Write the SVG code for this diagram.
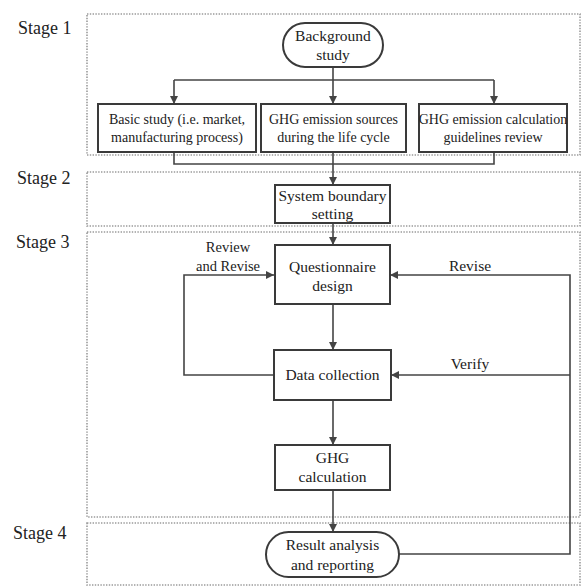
<svg xmlns="http://www.w3.org/2000/svg" width="581" height="586" viewBox="0 0 581 586">
<style>
.stage{fill:none;stroke:#9a9a9a;stroke-width:1.6;stroke-dasharray:1.4 1.4}
.box{fill:#fff;stroke:#3a3a3a;stroke-width:2}
.t{font-family:"Liberation Serif","Times New Roman",serif;font-size:15.5px;fill:#222;text-anchor:middle}
.s{font-size:14px}
.sl{font-family:"Liberation Serif","Times New Roman",serif;font-size:18px;fill:#222}
.c{fill:none;stroke:#444;stroke-width:1.6}
</style>
<defs>
<marker id="ah" viewBox="0 0 10 10" refX="10" refY="5" markerWidth="8" markerHeight="8" markerUnits="userSpaceOnUse" orient="auto">
<path d="M0,0 L10,5 L0,10 z" fill="#444"/>
</marker>
</defs>
<rect width="581" height="586" fill="#fff"/>
<g id="stages">
<rect class="stage" x="87" y="14" width="493" height="141"/>
<rect class="stage" x="87" y="172" width="493" height="54"/>
<rect class="stage" x="87" y="232" width="493" height="285"/>
<rect class="stage" x="87" y="523" width="493" height="62"/>
<text class="sl" x="18" y="34">Stage 1</text>
<text class="sl" x="17" y="184">Stage 2</text>
<text class="sl" x="16" y="248">Stage 3</text>
<text class="sl" x="13" y="539">Stage 4</text>
</g>
<g id="connectors">
<path class="c" d="M333,67 V80"/>
<path class="c" d="M174,80 H494"/>
<path class="c" d="M174,80 V104" marker-end="url(#ah)"/>
<path class="c" d="M333,80 V104" marker-end="url(#ah)"/>
<path class="c" d="M494,80 V104" marker-end="url(#ah)"/>
<path class="c" d="M174,152 V164 H494 V152"/>
<path class="c" d="M333,152 V185" marker-end="url(#ah)"/>
<path class="c" d="M333,223 V245" marker-end="url(#ah)"/>
<path class="c" d="M333,304 V350" marker-end="url(#ah)"/>
<path class="c" d="M333,400 V445" marker-end="url(#ah)"/>
<path class="c" d="M333,490 V532" marker-end="url(#ah)"/>
<path class="c" d="M274,375 H184 V275 H274" marker-end="url(#ah)"/>
<path class="c" d="M399,554 H570 V275 H390" marker-end="url(#ah)"/>
<path class="c" d="M570,375 H391" marker-end="url(#ah)"/>
<text class="t" x="228" y="252" style="font-size:14.5px">Review</text>
<text class="t" x="228" y="271" style="font-size:14.5px">and Revise</text>
<text class="t" x="470" y="271">Revise</text>
<text class="t" x="470" y="369">Verify</text>
</g>
<g id="background">
<rect class="box" x="283" y="23" width="100" height="44" rx="22"/>
<text class="t" x="333" y="41">Background</text>
<text class="t" x="333" y="60">study</text>
</g>
<g id="basic">
<rect class="box" x="98" y="104" width="158" height="48"/>
<text class="t s" x="177" y="124">Basic study (i.e. market,</text>
<text class="t s" x="177" y="142">manufacturing process)</text>
</g>
<g id="sources">
<rect class="box" x="261" y="104" width="145" height="48"/>
<text class="t s" x="333.5" y="124">GHG emission sources</text>
<text class="t s" x="333.5" y="142">during the life cycle</text>
</g>
<g id="guidelines">
<rect class="box" x="419" y="104" width="148" height="48"/>
<text class="t s" x="493" y="124">GHG emission calculation</text>
<text class="t s" x="493" y="142">guidelines review</text>
</g>
<g id="boundary">
<rect class="box" x="275" y="185" width="115" height="38"/>
<text class="t" x="332.5" y="201">System boundary</text>
<text class="t" x="332.5" y="219">setting</text>
</g>
<g id="questionnaire">
<rect class="box" x="275" y="245" width="115" height="59"/>
<text class="t" x="332.5" y="272">Questionnaire</text>
<text class="t" x="332.5" y="291">design</text>
</g>
<g id="datacollection">
<rect class="box" x="274" y="350" width="117" height="50"/>
<text class="t" x="332.5" y="380">Data collection</text>
</g>
<g id="ghgcalc">
<rect class="box" x="275" y="445" width="115" height="45"/>
<text class="t" x="332.5" y="463">GHG</text>
<text class="t" x="332.5" y="482">calculation</text>
</g>
<g id="result">
<rect class="box" x="266" y="532" width="133" height="45" rx="22.5"/>
<text class="t" x="332.5" y="550">Result analysis</text>
<text class="t" x="332.5" y="570">and reporting</text>
</g>
</svg>
